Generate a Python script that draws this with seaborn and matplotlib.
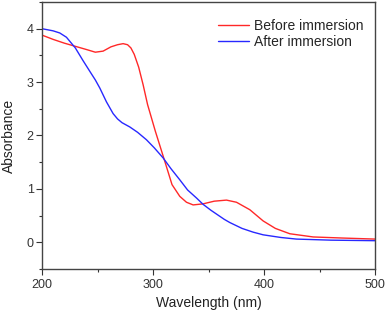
import numpy as np
import pandas as pd
import seaborn as sns
import matplotlib
matplotlib.use("Agg")
import matplotlib.pyplot as plt
from matplotlib.ticker import MultipleLocator

sns.set_style("ticks")
plt.rcParams['font.family'] = ['Liberation Sans', 'DejaVu Sans']

wl_before = [200, 210, 220, 230, 240, 248, 255, 262, 268, 273, 277, 280, 283, 287,
             291, 295, 302, 310, 317, 324, 330, 336, 345, 355, 366, 375, 387, 399,
             410, 423, 444, 470, 500]
abs_before = [3.88, 3.80, 3.73, 3.67, 3.61, 3.56, 3.58, 3.66, 3.70, 3.72, 3.70, 3.64,
              3.52, 3.28, 2.95, 2.58, 2.08, 1.55, 1.08, 0.86, 0.75, 0.70, 0.72, 0.77,
              0.79, 0.75, 0.61, 0.40, 0.26, 0.16, 0.10, 0.08, 0.06]

wl_after = [200, 210, 216, 222, 230, 237, 244, 248, 252, 255, 258, 264, 268, 272,
            279, 286, 294, 301, 309, 316, 324, 331, 339, 345, 352, 364, 369, 380,
            390, 399, 415, 429, 460, 500]
abs_after = [4.00, 3.96, 3.92, 3.84, 3.64, 3.40, 3.17, 3.04, 2.89, 2.76, 2.63, 2.41,
             2.31, 2.24, 2.16, 2.06, 1.92, 1.77, 1.58, 1.38, 1.17, 0.98, 0.83, 0.71,
             0.60, 0.43, 0.37, 0.26, 0.19, 0.14, 0.09, 0.06, 0.04, 0.03]

labels = ["Before immersion", "After immersion"]

df = pd.concat([
    pd.DataFrame({"wl": wl_before, "A": abs_before, "s": labels[0]}),
    pd.DataFrame({"wl": wl_after, "A": abs_after, "s": labels[1]}),
])

fig = plt.figure(figsize=(3.87, 3.13), dpi=100)
ax = fig.add_axes([0.1085, 0.1406, 0.8615, 0.8530])

sns.lineplot(data=df, x="wl", y="A", hue="s", sort=False, ax=ax,
             palette={labels[0]: "#ff2828", labels[1]: "#2828ff"}, linewidth=1.0)

ax.set_xlim(200, 500)
ax.set_ylim(-0.5, 4.5)
ax.xaxis.set_major_locator(MultipleLocator(100))
ax.xaxis.set_minor_locator(MultipleLocator(50))
ax.yaxis.set_major_locator(MultipleLocator(1))
ax.yaxis.set_minor_locator(MultipleLocator(0.5))
ax.set_yticks([0, 1, 2, 3, 4])
ax.tick_params(axis="both", which="major", labelsize=9, length=4, width=0.8,
               colors="#333333", direction="out")
ax.tick_params(axis="both", which="minor", length=2.5, width=0.8, color="#333333",
               direction="out")
ax.tick_params(axis="x", which="major", pad=3)
ax.tick_params(axis="y", which="major", pad=2)

for sp in ax.spines.values():
    sp.set_visible(True)
    sp.set_color("#444444")
    sp.set_linewidth(1.0)

ax.set_xlabel("Wavelength (nm)", fontsize=10, color="#222222", labelpad=4)
ax.set_ylabel("Absorbance", fontsize=10, color="#222222", labelpad=8)

ax.legend(title=None, frameon=False, fontsize=10, loc="upper right",
          bbox_to_anchor=(0.99, 0.968), handlelength=2.2, handletextpad=0.4,
          labelspacing=0.15, borderaxespad=0.2)

fig.savefig("out.png", dpi=100)
